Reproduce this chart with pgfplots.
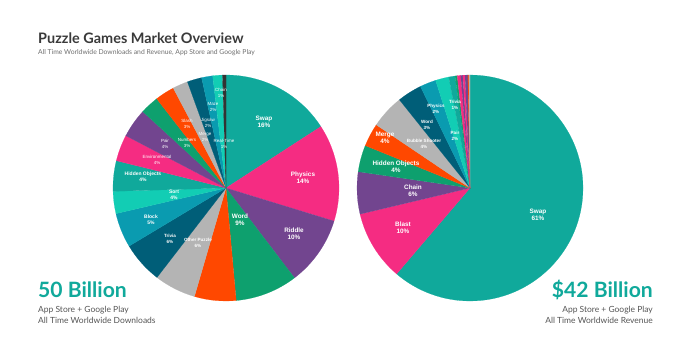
\documentclass[border=0pt]{standalone}
\usepackage{pgfplots}
\usepackage{pgfplotstable}
\pgfplotsset{compat=1.18}
\usepackage{fontspec}
\setmainfont{Lato}
\newfontfamily\lab{Liberation Sans}

\definecolor{cTeal}{HTML}{10A99B}
\definecolor{cPink}{HTML}{F52C82}
\definecolor{cPurple}{HTML}{72458F}
\definecolor{cGreen}{HTML}{0EA06E}
\definecolor{cOrange}{HTML}{FF4800}
\definecolor{cGray}{HTML}{B4B4B4}
\definecolor{cDark}{HTML}{005E78}
\definecolor{cBlue}{HTML}{0A9BB0}
\definecolor{cLight}{HTML}{12CDB4}
\definecolor{cBlack}{HTML}{333333}
\definecolor{cTitle}{HTML}{3A3A3A}
\definecolor{cSub}{HTML}{6E6E6E}
\definecolor{cNote}{HTML}{555555}

% Downloads share (%), clockwise from 12 o'clock
\pgfplotstableread[col sep=comma]{
name,value,color
Swap,16.0,cTeal
Physics,14.0,cPink
Riddle,10.0,cPurple
Word,9.0,cGreen
Unlabeled,6.0,cOrange
Other Puzzle,6.0,cGray
Trivia,6.0,cDark
Block,5.0,cBlue
Sort,3.2,cLight
Hidden Objects,4.4,cTeal
Environmental,3.8,cPink
Pair,4.2,cPurple
Numbers,2.7,cGreen
Slash,2.8,cOrange
Merge,2.2,cGray
Jigsaw,2.1,cDark
Maze,1.6,cBlue
Chain,1.4,cLight
Real-Time,0.5,cBlack
}\leftpie

% Revenue share (%), clockwise from 12 o'clock
\pgfplotstableread[col sep=comma]{
name,value,color
Swap,61.0,cTeal
Blast,10.0,cPink
Chain,6.0,cPurple
Hidden Objects,3.8,cGreen
Merge,3.3,cOrange
Bubble Shooter,4.8,cGray
Word,3.5,cDark
Physics,2.3,cBlue
Pair,1.9,cLight
Trivia,0.9,cTeal
Other1,0.3,cGreen
Other2,0.5,cPink
Other3,0.3,cPurple
Other4,0.3,cPink
Other5,0.4,cPurple
Other6,0.15,cOrange
Other7,0.15,cGray
}\rightpie

\newcommand{\drawpie}[4]{%
  \pgfplotstablegetrowsof{#1}%
  \pgfmathtruncatemacro{\pieLast}{\pgfplotsretval-1}%
  \xdef\pieTot{0}%
  \foreach \i in {0,...,\pieLast}{%
    \pgfplotstablegetelem{\i}{value}\of{#1}\let\pieV\pgfplotsretval
    \pgfmathsetmacro{\pieTmp}{\pieTot+\pieV}\xdef\pieTot{\pieTmp}}%
  \xdef\pieCum{0}%
  \foreach \i in {0,...,\pieLast}{%
    \pgfplotstablegetelem{\i}{value}\of{#1}\let\pieV\pgfplotsretval
    \pgfplotstablegetelem{\i}{color}\of{#1}\let\pieC\pgfplotsretval
    \pgfmathsetmacro{\pieA}{90-3.6*(\pieCum/\pieTot)*100}%
    \pgfmathsetmacro{\pieTmp}{\pieCum+\pieV}\xdef\pieCum{\pieTmp}%
    \pgfmathsetmacro{\pieB}{90-3.6*(\pieCum/\pieTot)*100}%
    \edef\pieCmd{\noexpand\fill[fill=\pieC, draw=\pieC, line width=0.15pt] (axis cs:#2,#3) -- ++(\pieA:#4) arc[start angle=\pieA, end angle=\pieB, radius=#4] -- cycle;}%
    \pieCmd}}

\newcommand{\fbig}{\lab\bfseries\fontsize{6.4}{7.4}\selectfont}
\newcommand{\fmed}{\lab\bfseries\fontsize{5}{5.8}\selectfont}
\newcommand{\fsmb}{\lab\bfseries\fontsize{4.6}{5.4}\selectfont}
\newcommand{\fsm}{\lab\fontsize{4.5}{5.3}\selectfont}
\newcommand{\lbl}[3]{\node[text=white, align=center, inner sep=0pt, font=#2] at (axis cs:#1) {#3};}

\begin{document}
\begin{tikzpicture}
\begin{axis}[
  x=1bp, y=1bp,
  xmin=0, xmax=696, ymin=0, ymax=354,
  hide axis, clip=false,
]
\path (axis cs:0,0) rectangle (axis cs:696,354);

\drawpie{\leftpie}{226}{166}{113bp}
\drawpie{\rightpie}{470}{166}{113bp}

% left pie labels
\lbl{264,232}{\fbig}{Swap\\16\%}
\lbl{303,176}{\fbig}{Physics\\14\%}
\lbl{294,120}{\fbig}{Riddle\\10\%}
\lbl{240,134}{\fbig}{Word\\9\%}
\lbl{198,111}{\fsmb}{Other Puzzle\\6\%}
\lbl{170,115}{\fsmb}{Trivia\\6\%}
\lbl{151,134}{\fmed}{Block\\5\%}
\lbl{174,159}{\fmed}{Sort\\4\%}
\lbl{143,177}{\fmed}{Hidden Objects\\4\%}
\lbl{157,194}{\fsm}{Environmental\\4\%}
\lbl{165,210}{\fsm}{Pair\\4\%}
\lbl{187,211}{\fsm}{Numbers\\3\%}
\lbl{187,230}{\fsm}{Slash\\3\%}
\lbl{205,217}{\fsm}{Merge\\2\%}
\lbl{208,231}{\fsm}{Jigsaw\\2\%}
\lbl{213,247}{\fsm}{Maze\\2\%}
\lbl{221,261}{\fsm}{Chain\\1\%}
\lbl{224,210}{\fsm}{Real-Time\\1\%}

% right pie labels
\lbl{538,139}{\fbig}{Swap\\61\%}
\lbl{403,126}{\fbig}{Blast\\10\%}
\lbl{413,163}{\fbig}{Chain\\6\%}
\lbl{396,187}{\fbig}{Hidden Objects\\4\%}
\lbl{385,216}{\fbig}{Merge\\4\%}
\lbl{424,210}{\fsmb}{Bubble Shooter\\4\%}
\lbl{427,229}{\fsmb}{Word\\3\%}
\lbl{436,245}{\fsmb}{Physics\\2\%}
\lbl{455,249}{\fsmb}{Trivia\\1\%}
\lbl{455,218}{\fsmb}{Pair\\2\%}

% titles
\node[anchor=base west, inner sep=0pt, text=cTitle, font=\bfseries\fontsize{14.5}{16}\selectfont] at (axis cs:38,311) {Puzzle Games Market Overview};
\node[anchor=base west, inner sep=0pt, text=cSub, font=\fontsize{6.8}{8}\selectfont] at (axis cs:38,300) {All Time Worldwide Downloads and Revenue, App Store and Google Play};

\node[anchor=base west, inner sep=0pt, text=cTeal, font=\bfseries\fontsize{21.2}{24}\selectfont] at (axis cs:38,57) {50 Billion};
\node[anchor=base west, inner sep=0pt, text=cNote, font=\fontsize{8.5}{10}\selectfont] at (axis cs:38,42) {App Store + Google Play};
\node[anchor=base west, inner sep=0pt, text=cNote, font=\fontsize{8.5}{10}\selectfont] at (axis cs:38,31) {All Time Worldwide Downloads};

\node[anchor=base east, inner sep=0pt, text=cTeal, font=\bfseries\fontsize{21.2}{24}\selectfont] at (axis cs:653,57) {\$42 Billion};
\node[anchor=base east, inner sep=0pt, text=cNote, font=\fontsize{8.5}{10}\selectfont] at (axis cs:653,42) {App Store + Google Play};
\node[anchor=base east, inner sep=0pt, text=cNote, font=\fontsize{8.5}{10}\selectfont] at (axis cs:653,31) {All Time Worldwide Revenue};
\end{axis}
\end{tikzpicture}
\end{document}
